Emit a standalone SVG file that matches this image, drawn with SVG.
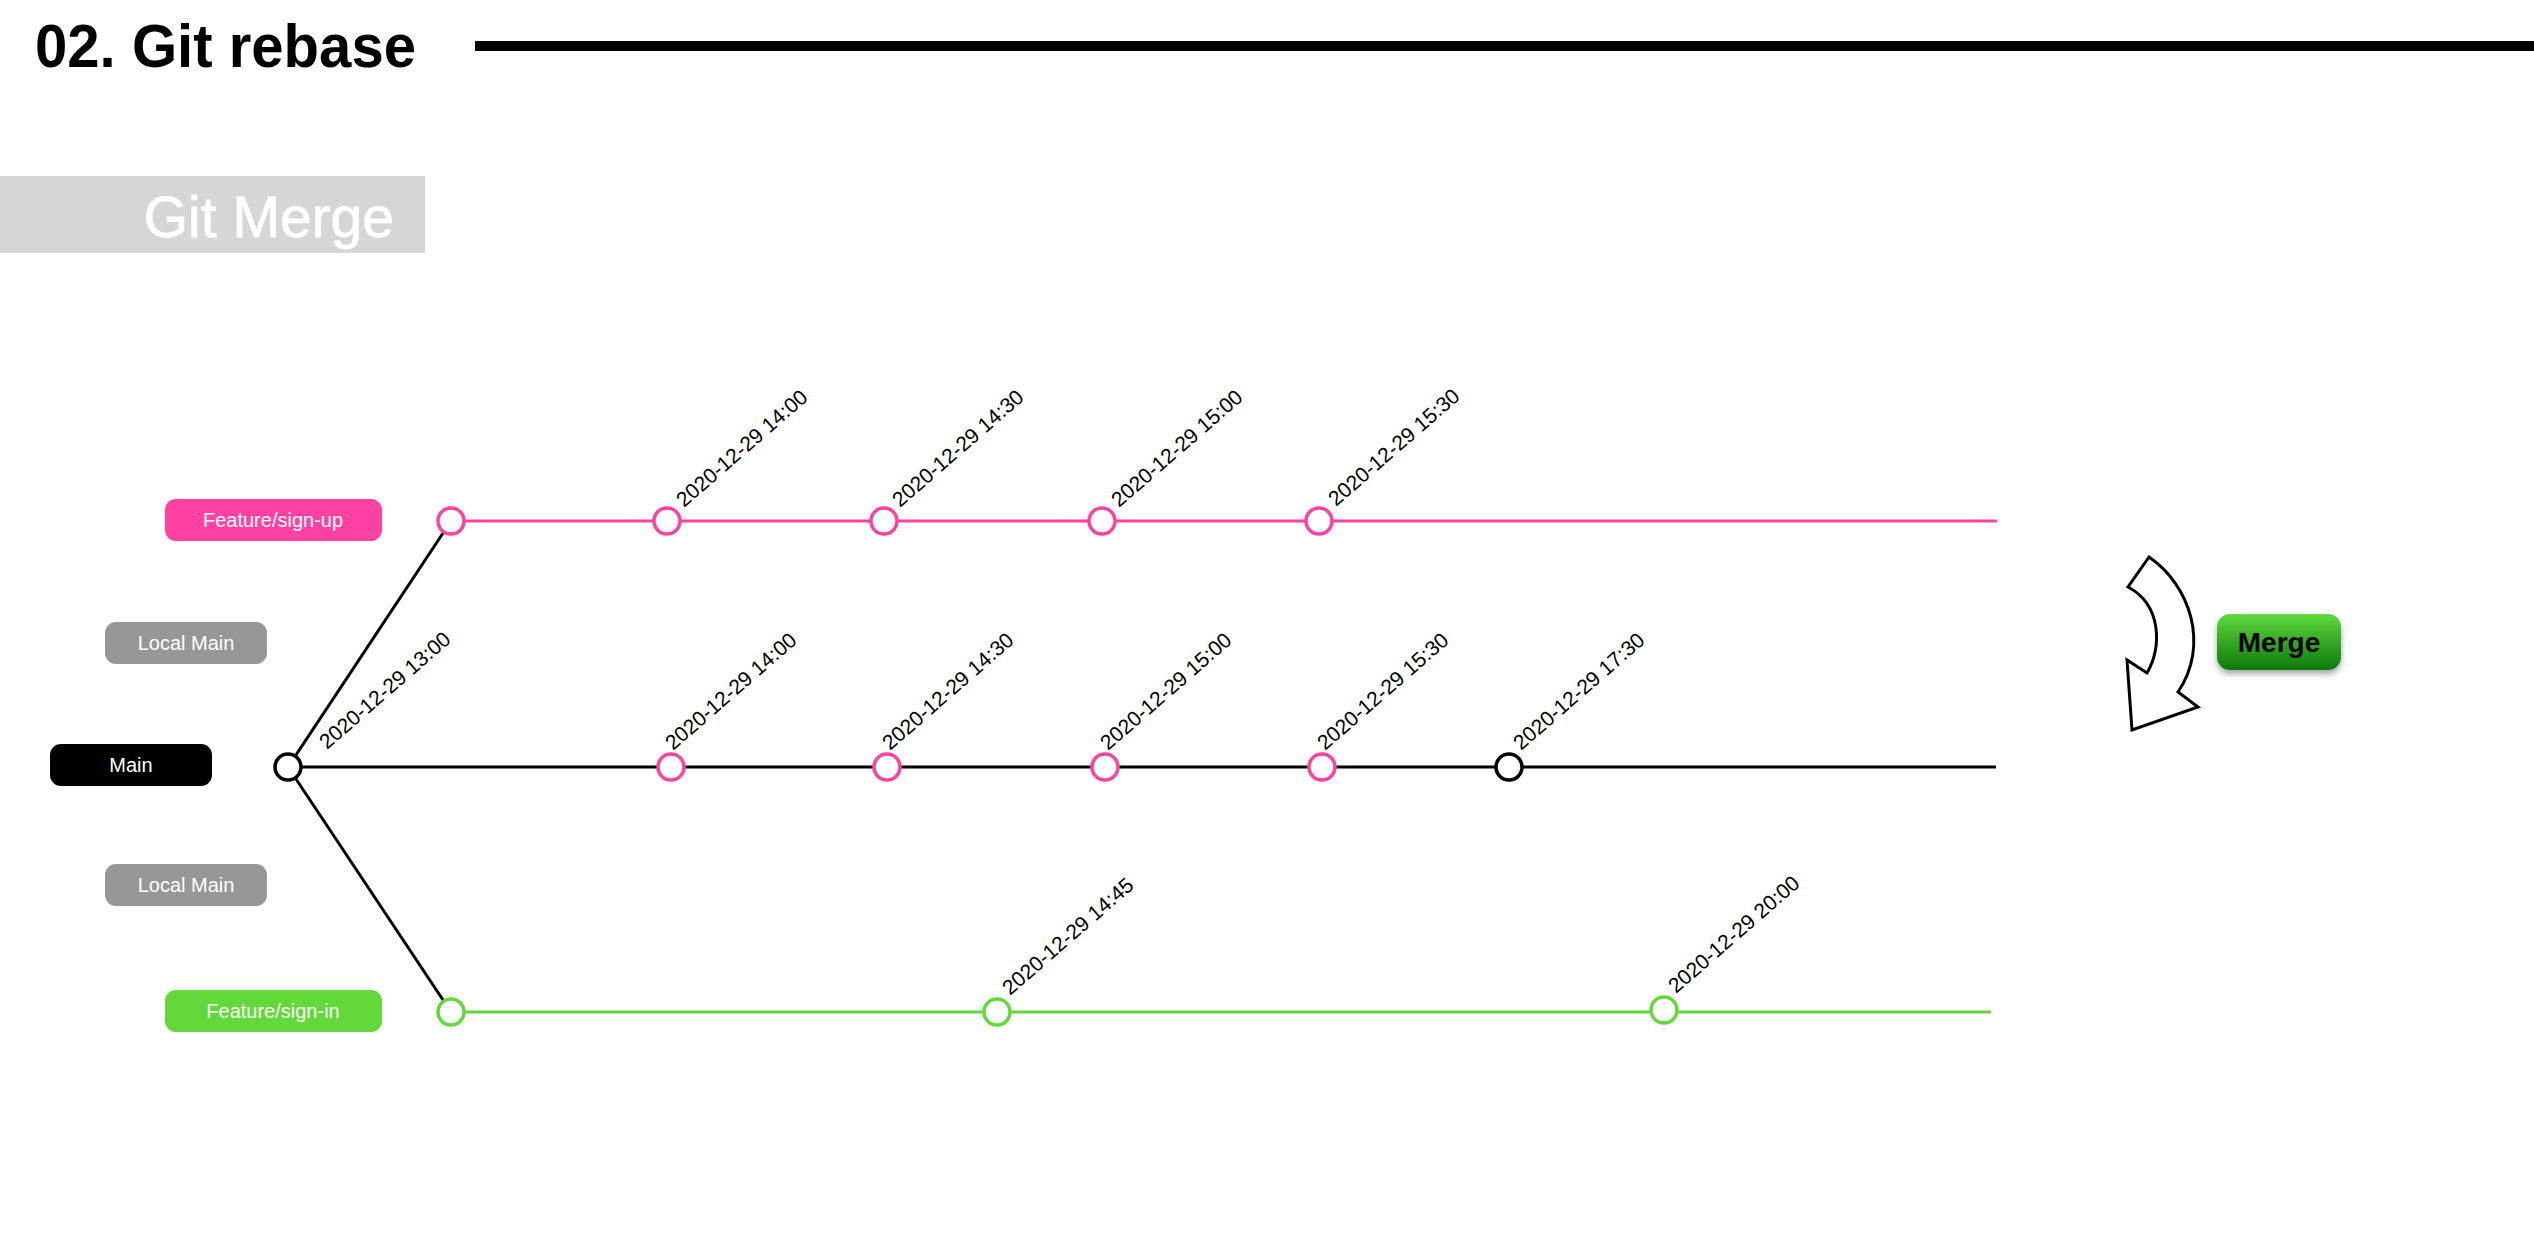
<svg xmlns="http://www.w3.org/2000/svg" width="2534" height="1252" viewBox="0 0 2534 1252">
<style>
.lbl{font-family:"Liberation Sans",Arial,sans-serif;font-size:20px;fill:#fff;text-anchor:middle}
.date{font-family:"Liberation Sans",Arial,sans-serif;font-size:21px;fill:#000}
.c{fill:#fff;stroke-width:3.5}
.pk{stroke:#ff42a1}
.gr{stroke:#63d83a}
.bk{stroke:#000}
.ln{stroke-width:3;fill:none}
</style>
<defs>
<linearGradient id="mg" x1="0" y1="0" x2="0" y2="1">
<stop offset="0" stop-color="#5fd83d"/>
<stop offset="1" stop-color="#0c7a0c"/>
</linearGradient>
<filter id="sh" x="-20%" y="-20%" width="140%" height="160%">
<feDropShadow dx="0" dy="4" stdDeviation="3" flood-color="#000" flood-opacity="0.35"/>
</filter>
</defs>
<rect width="2534" height="1252" fill="#fff"/>
<g id="title">
<text x="35" y="67" font-family="'Liberation Sans',Arial,sans-serif" font-size="62" font-weight="bold" textLength="381" lengthAdjust="spacingAndGlyphs">02. Git rebase</text>
<rect x="475" y="41" width="2059" height="10" fill="#000"/>
</g>
<g id="section">
<rect x="0" y="176" width="425" height="77" fill="#d6d6d6"/>
<text x="394" y="237" text-anchor="end" font-family="'Liberation Sans',Arial,sans-serif" font-size="57" fill="#fff" stroke="#fff" stroke-width="0.8">Git Merge</text>
</g>
<g id="labels">
<g id="lbl-signup"><rect x="165" y="499" width="217" height="42" rx="11" fill="#ff42a1"/><text class="lbl" x="273" y="527">Feature/sign-up</text></g>
<g id="lbl-local1"><rect x="105" y="622" width="162" height="42" rx="11" fill="#979797"/><text class="lbl" x="186" y="650">Local Main</text></g>
<g id="lbl-main"><rect x="50" y="744" width="162" height="42" rx="11" fill="#000"/><text class="lbl" x="131" y="772">Main</text></g>
<g id="lbl-local2"><rect x="105" y="864" width="162" height="42" rx="11" fill="#979797"/><text class="lbl" x="186" y="892">Local Main</text></g>
<g id="lbl-signin"><rect x="165" y="990" width="217" height="42" rx="11" fill="#63d83a"/><text class="lbl" x="273" y="1018">Feature/sign-in</text></g>
</g>
<g id="connectors">
<line class="ln pk" x1="451" y1="521" x2="1997" y2="521"/>
<line class="ln bk" x1="288" y1="767" x2="1996" y2="767"/>
<line class="ln gr" x1="451" y1="1012" x2="1991" y2="1012"/>
<line class="ln bk" x1="288" y1="767" x2="451" y2="521"/>
<line class="ln bk" x1="288" y1="767" x2="451" y2="1012"/>
</g>
<g id="commits-signup">
<circle class="c pk" cx="451" cy="521" r="13"/>
<circle class="c pk" cx="667" cy="521" r="13"/>
<circle class="c pk" cx="884" cy="521" r="13"/>
<circle class="c pk" cx="1102" cy="521" r="13"/>
<circle class="c pk" cx="1319" cy="521" r="13"/>
<text class="date" transform="translate(684 508) rotate(-41)">2020-12-29 14:00</text>
<text class="date" transform="translate(900 508) rotate(-41)">2020-12-29 14:30</text>
<text class="date" transform="translate(1119 508) rotate(-41)">2020-12-29 15:00</text>
<text class="date" transform="translate(1336 507) rotate(-41)">2020-12-29 15:30</text>
</g>
<g id="commits-main">
<circle class="c bk" cx="288" cy="767" r="13"/>
<circle class="c pk" cx="671" cy="767" r="13"/>
<circle class="c pk" cx="887" cy="767" r="13"/>
<circle class="c pk" cx="1105" cy="767" r="13"/>
<circle class="c pk" cx="1322" cy="767" r="13"/>
<circle class="c bk" cx="1509" cy="767" r="13"/>
<text class="date" transform="translate(327 750) rotate(-41)">2020-12-29 13:00</text>
<text class="date" transform="translate(673 751) rotate(-41)">2020-12-29 14:00</text>
<text class="date" transform="translate(890 751) rotate(-41)">2020-12-29 14:30</text>
<text class="date" transform="translate(1108 751) rotate(-41)">2020-12-29 15:00</text>
<text class="date" transform="translate(1325 751) rotate(-41)">2020-12-29 15:30</text>
<text class="date" transform="translate(1521 751) rotate(-41)">2020-12-29 17:30</text>
</g>
<g id="commits-signin">
<circle class="c gr" cx="451" cy="1012" r="13"/>
<circle class="c gr" cx="997" cy="1012" r="13"/>
<circle class="c gr" cx="1664" cy="1010" r="13"/>
<text class="date" transform="translate(1010 996) rotate(-41)">2020-12-29 14:45</text>
<text class="date" transform="translate(1676 994) rotate(-41)">2020-12-29 20:00</text>
</g>
<g id="merge-arrow">
<path d="M2149 557 C2190 585 2210 645 2178 692 L2198 707 L2132 730 L2127 660 L2147 673 C2162 648 2162 605 2128 587 Z" fill="#fff" stroke="#000" stroke-width="3" stroke-linejoin="miter"/>
</g>
<g id="merge-button">
<rect x="2217" y="614" width="124" height="56" rx="13" fill="url(#mg)" filter="url(#sh)"/>
<text x="2279" y="652" text-anchor="middle" font-family="'Liberation Sans',Arial,sans-serif" font-size="28" font-weight="bold" fill="#000">Merge</text>
</g>
</svg>
